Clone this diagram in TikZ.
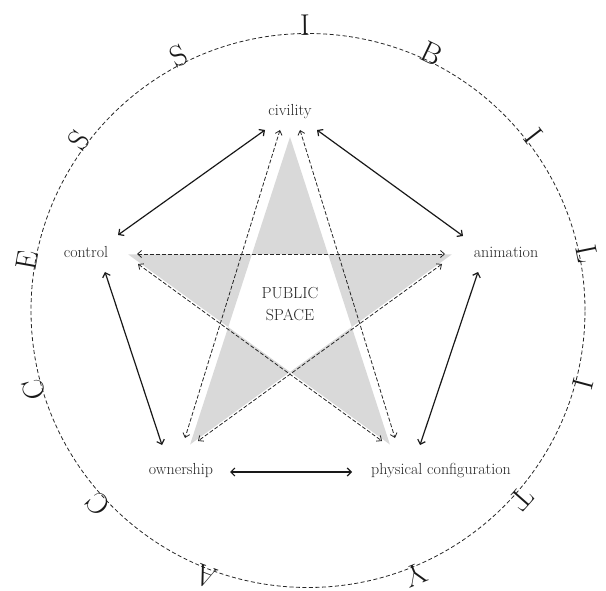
\documentclass[tikz,border=0pt]{standalone}
\usetikzlibrary{arrows.meta}
\begin{document}
\begin{tikzpicture}[x=1pt,y=-1pt,
  lbl/.style={font=\fontsize{16}{20}\selectfont, text=black!85, inner sep=0pt},
  ring/.style={draw=black!85, line width=0.8pt, dash pattern=on 4pt off 2.5pt},
  link/.style={draw=black!90, line width=1.2pt, {Straight Barb[length=4pt,width=8pt]}-{Straight Barb[length=4pt,width=8pt]}},
  dlink/.style={draw=black!85, line width=0.8pt, dash pattern=on 4pt off 2pt, {Straight Barb[length=4pt,width=7pt]}-{Straight Barb[length=4pt,width=7pt]}},
  letter/.style={font=\fontsize{30}{31}\selectfont, text=black!90, inner sep=0pt, anchor=base}]
\useasboundingbox (0,0) rectangle (606,591);

% gray pentagram
\fill[gray!30, even odd rule] (290,137) -- (389.9,444.5) -- (128.3,254.5) -- (451.7,254.5) -- (190.1,444.5) -- cycle;

% outer ring
\coordinate (ctr) at (308,310.5);
\draw[ring] (ctr) circle[radius=277pt];

% ACCESSIBILITY around the ring
\foreach \l [count=\i from 0] in {A,C,C,E,S,S,I,B,I,L,I,T,Y} {
  \pgfmathsetmacro\ang{-111-26.4*\i}
  \node[letter, rotate=\ang-90] (let\i) at ([shift={(\ang:275pt)}]ctr) {\l};
}

% labels
\node[lbl] (civility) at (290,112) {civility};
\node[lbl] (control) at (86,252) {control};
\node[lbl] (animation) at (506,252) {animation};
\node[lbl] (ownership) at (181,471) {ownership};
\node[lbl] (physical) at (441,471) {physical configuration};
\node[lbl, align=center, font=\fontsize{16}{22}\selectfont] (ps) at (290,304) {PUBLIC\\SPACE};

% connector end points
\coordinate (civ-l) at (265,130);  \coordinate (ctl-u) at (118,235);
\coordinate (civ-r) at (317,130);  \coordinate (ani-u) at (463,236);
\coordinate (ctl-d) at (105,272);  \coordinate (own-u) at (162,445);
\coordinate (ani-d) at (478,272);  \coordinate (phy-u) at (420,445);
\coordinate (own-r) at (230,472);  \coordinate (phy-l) at (352,472);

\coordinate (ctl-h) at (137,254);  \coordinate (ani-h) at (445,254);
\coordinate (ctl-s) at (138,264);  \coordinate (phy-s) at (382,441);
\coordinate (ani-s) at (442,264);  \coordinate (own-s) at (198,441);
\coordinate (civ-sl) at (280,130); \coordinate (own-c) at (185,438);
\coordinate (civ-sr) at (300,130); \coordinate (phy-c) at (395,438);

% solid connectors
\draw[link] (civ-l) -- (ctl-u);
\draw[link] (civ-r) -- (ani-u);
\draw[link] (ctl-d) -- (own-u);
\draw[link] (ani-d) -- (phy-u);
\draw[link] (own-r) -- (phy-l);

% dashed connectors
\draw[dlink] (ctl-h) -- (ani-h);
\draw[dlink] (ctl-s) -- (phy-s);
\draw[dlink] (ani-s) -- (own-s);
\draw[dlink] (civ-sl) -- (own-c);
\draw[dlink] (civ-sr) -- (phy-c);
\end{tikzpicture}
\end{document}
